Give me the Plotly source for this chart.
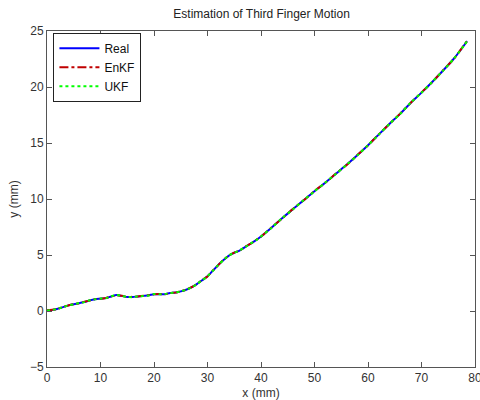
import plotly.graph_objects as go

x_mm = [0, 1, 2, 3, 4, 5, 6, 7, 8, 9, 10, 11, 12, 13, 14, 15, 16, 17, 18, 19,
        20, 21, 22, 23, 24, 25, 26, 27, 28, 29, 30, 31, 32, 33, 34, 35, 36, 37,
        38, 39, 40, 42, 44, 46, 48, 50, 52, 54, 56, 58, 60, 62, 64, 66, 68, 70,
        72, 74, 76, 78, 78.5]
y_real = [0.05, 0.1, 0.2, 0.35, 0.5, 0.6, 0.7, 0.8, 0.95, 1.05, 1.1, 1.15, 1.3,
          1.42, 1.35, 1.25, 1.25, 1.3, 1.35, 1.4, 1.5, 1.5, 1.5, 1.6, 1.65, 1.75,
          1.9, 2.1, 2.4, 2.75, 3.1, 3.6, 4.1, 4.55, 4.95, 5.2, 5.4, 5.7, 6.0, 6.3,
          6.65, 7.45, 8.3, 9.1, 9.9, 10.7, 11.45, 12.25, 13.05, 13.9, 14.8, 15.75,
          16.7, 17.6, 18.6, 19.5, 20.45, 21.45, 22.5, 23.75, 24.1]
y_enkf = [0.06, 0.12, 0.19, 0.36, 0.49, 0.62, 0.69, 0.82, 0.94, 1.06, 1.09, 1.17,
          1.29, 1.41, 1.36, 1.24, 1.27, 1.29, 1.36, 1.41, 1.49, 1.52, 1.49, 1.61,
          1.64, 1.77, 1.89, 2.12, 2.39, 2.77, 3.09, 3.62, 4.09, 4.57, 4.94, 5.22,
          5.39, 5.72, 5.99, 6.32, 6.64, 7.47, 8.29, 9.12, 9.89, 10.72, 11.44,
          12.27, 13.04, 13.92, 14.79, 15.77, 16.69, 17.62, 18.59, 19.52, 20.44,
          21.47, 22.49, 23.77, 24.1]
y_ukf = [0.04, 0.09, 0.21, 0.34, 0.51, 0.59, 0.71, 0.79, 0.96, 1.04, 1.11, 1.14,
         1.31, 1.43, 1.34, 1.26, 1.24, 1.31, 1.34, 1.39, 1.51, 1.49, 1.51, 1.59,
         1.66, 1.74, 1.91, 2.09, 2.41, 2.74, 3.11, 3.59, 4.11, 4.54, 4.96, 5.19,
         5.41, 5.69, 6.01, 6.29, 6.66, 7.44, 8.31, 9.09, 9.91, 10.69, 11.46,
         12.24, 13.06, 13.89, 14.81, 15.74, 16.71, 17.59, 18.61, 19.49, 20.46,
         21.44, 22.51, 23.74, 24.1]

x_ticks = [0, 10, 20, 30, 40, 50, 60, 70, 80]
y_ticks = [-5, 0, 5, 10, 15, 20, 25]

FONT = "Liberation Sans, Arial"

fig = go.Figure()
fig.add_trace(go.Scatter(x=x_mm, y=y_real, mode="lines", name="Real",
                         line=dict(color="#0000ff", width=2, dash="solid",
                                   shape="spline", smoothing=0.8)))
fig.add_trace(go.Scatter(x=x_mm, y=y_enkf, mode="lines", name="EnKF",
                         line=dict(color="#c00000", width=2, dash="dashdot",
                                   shape="spline", smoothing=0.8)))
fig.add_trace(go.Scatter(x=x_mm, y=y_ukf, mode="lines", name="UKF",
                         line=dict(color="#00ff00", width=2, dash="dot",
                                   shape="spline", smoothing=0.8)))

axis_common = dict(
    showgrid=False, zeroline=False, showline=True, linecolor="#555555",
    linewidth=1, mirror="allticks", ticks="inside", ticklen=5,
    tickcolor="#555555", ticklabeloverflow="allow", automargin=False,
    tickfont=dict(family=FONT, size=12, color="#333333"),
)

fig.update_layout(
    width=480, height=400,
    margin=dict(l=47, r=5, t=31, b=33),
    paper_bgcolor="white", plot_bgcolor="white",
    title=dict(text="Estimation of Third Finger Motion", x=0.545, xanchor="center",
               y=0.965, yanchor="middle",
               font=dict(family=FONT, size=12, color="#222222")),
    xaxis=dict(range=[0, 80], tickvals=x_ticks,
               title=dict(text="x (mm)", standoff=5,
                          font=dict(family=FONT, size=12, color="#333333")),
               **axis_common),
    yaxis=dict(range=[-5, 25], tickvals=y_ticks,
               title=dict(text="y (mm)", standoff=8,
                          font=dict(family=FONT, size=12, color="#333333")),
               **axis_common),
    legend=dict(x=0.015, y=0.995, xanchor="left", yanchor="top",
                bgcolor="white", bordercolor="#222222", borderwidth=1,
                font=dict(family=FONT, size=12, color="#111111"),
                tracegroupgap=0, itemwidth=40),
    showlegend=True,
)

fig.write_html("out.html")
